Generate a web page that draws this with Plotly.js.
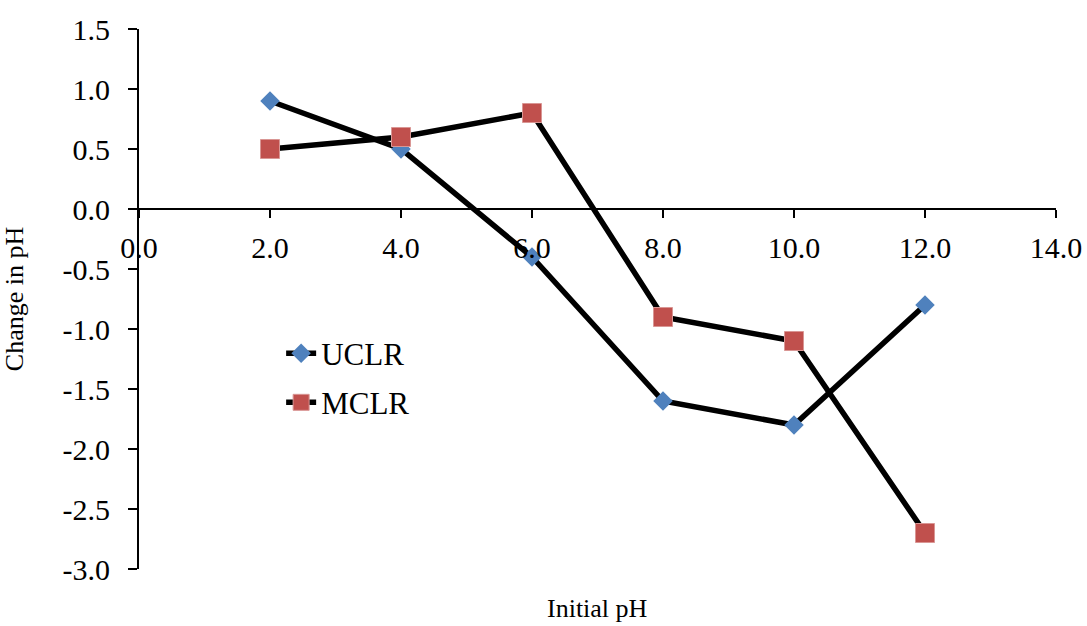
<!DOCTYPE html>
<html>
<head>
<meta charset="utf-8">
<script src="https://cdn.plot.ly/plotly-3.0.1.min.js"></script>
<style>html,body{margin:0;padding:0;background:#fff;}#chart{width:1087px;height:626px;}</style>
</head>
<body>
<div id="chart"></div>
<script>
const initialPH = [2, 4, 6, 8, 10, 12];
const uclr = [0.9, 0.5, -0.4, -1.6, -1.8, -0.8];
const mclr = [0.5, 0.6, 0.8, -0.9, -1.1, -2.7];
const xTicks = [0, 2, 4, 6, 8, 10, 12, 14];
const xTickLabels = ['0.0', '2.0', '4.0', '6.0', '8.0', '10.0', '12.0', '14.0'];
const yTicks = [-3, -2.5, -2, -1.5, -1, -0.5, 0, 0.5, 1, 1.5];
const yTickLabels = ['-3.0', '-2.5', '-2.0', '-1.5', '-1.0', '-0.5', '0.0', '0.5', '1.0', '1.5'];

const FONT = 'Liberation Serif, Times New Roman, serif';

const traces = [
  {
    x: initialPH, y: uclr, name: 'UCLR', type: 'scatter', mode: 'lines+markers',
    line: {color: '#000000', width: 5.5},
    marker: {symbol: 'diamond', size: 15, color: '#4F81BD'},
    legend: 'legend'
  },
  {
    x: initialPH, y: mclr, name: 'MCLR', type: 'scatter', mode: 'lines+markers',
    line: {color: '#000000', width: 5.5},
    marker: {symbol: 'square', size: 19, color: '#C0504D', line: {color: '#D99694', width: 1}},
    legend: 'legend2'
  }
];

const layout = {
  width: 1087, height: 626,
  margin: {l: 139, r: 31, t: 29, b: 57},
  paper_bgcolor: '#ffffff', plot_bgcolor: '#ffffff',
  font: {family: FONT, color: '#000000', size: 30},
  showlegend: true,
  xaxis: {
    range: [0, 14], tickvals: xTicks, ticktext: xTickLabels,
    showgrid: false, zeroline: false,
    showline: true, linecolor: '#000000', linewidth: 2,
    ticks: 'outside', ticklen: 8, tickwidth: 2, tickcolor: '#000000',
    anchor: 'free', position: 3 / 4.5,
    tickfont: {family: FONT, size: 30, color: '#000000'},
    ticklabelstandoff: 4
  },
  yaxis: {
    range: [-3, 1.5], tickvals: yTicks, ticktext: yTickLabels,
    showgrid: false, zeroline: false,
    showline: true, linecolor: '#000000', linewidth: 2,
    ticks: 'outside', ticklen: 9, tickwidth: 2, tickcolor: '#000000',
    tickfont: {family: FONT, size: 30, color: '#000000'},
    ticklabelstandoff: 12,
    title: {text: 'Change in pH', font: {family: FONT, size: 26, color: '#000000'}, standoff: 33}
  },
  legend: {
    x: 0.155, y: 0.399, xanchor: 'left', yanchor: 'middle',
    font: {family: FONT, size: 31, color: '#000000'},
    bgcolor: 'rgba(0,0,0,0)', borderwidth: 0
  },
  legend2: {
    x: 0.155, y: 0.308, xanchor: 'left', yanchor: 'middle',
    font: {family: FONT, size: 31, color: '#000000'},
    bgcolor: 'rgba(0,0,0,0)', borderwidth: 0
  },
  annotations: [
    {
      text: 'Initial pH', xref: 'paper', yref: 'paper', x: 0.5, y: -0.074,
      xanchor: 'center', yanchor: 'middle', showarrow: false,
      font: {family: FONT, size: 26, color: '#000000'}
    }
  ]
};

Plotly.newPlot('chart', traces, layout, {displayModeBar: false, staticPlot: true});
</script>
</body>
</html>
